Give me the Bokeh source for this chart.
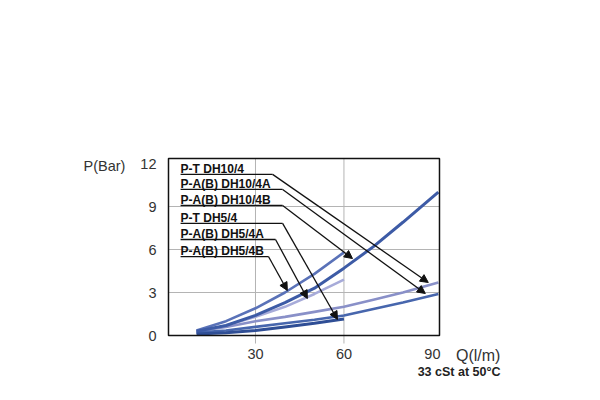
from bokeh.plotting import figure
from bokeh.models import FixedTicker, Label, Arrow, NormalHead, Range1d
from bokeh.core.properties import value
from bokeh.embed import file_html
from bokeh.resources import INLINE

# ---- data ----
q_dh10 = [10, 20, 30, 40, 50, 60, 70, 80, 92]
p_dh10_pt = [0.3, 0.6, 1.0, 1.3, 1.65, 2.0, 2.5, 3.0, 3.7]
p_dh10_a = [0.2, 0.35, 0.6, 0.85, 1.1, 1.4, 1.85, 2.3, 2.9]
p_dh10_b = [0.3, 0.7, 1.4, 2.3, 3.3, 4.7, 6.2, 7.9, 10.0]
q_dh5 = [10, 20, 30, 40, 50, 60]
p_dh5_pt = [0.1, 0.2, 0.35, 0.6, 0.85, 1.15]
p_dh5_a = [0.25, 0.7, 1.3, 2.0, 2.9, 3.9]
p_dh5_b = [0.35, 1.0, 1.9, 3.0, 4.3, 5.8]

labels = ["P-T DH10/4", "P-A(B) DH10/4A", "P-A(B) DH10/4B",
          "P-T DH5/4", "P-A(B) DH5/4A", "P-A(B) DH5/4B"]
label_q = [4.6, 4.6, 4.6, 4.6, 4.6, 4.6]
label_p = [11.24, 10.19, 9.07, 7.82, 6.70, 5.51]
bend_q = [35.8, 39.2, 39.2, 39.2, 36.8, 34.4]
tip_q = [88.6, 87.6, 62.9, 57.8, 47.6, 40.8]
tip_p = [3.70, 2.93, 5.37, 1.12, 2.58, 3.14]

x_ticks = [30, 60, 90]
y_ticks = [0, 3, 6, 9, 12]
x_grid = [30, 60]
y_grid = [3, 6, 9]
q_lim = (0.5, 92.4)
p_lim = (0.0, 12.35)

FONT = "Liberation Sans"

# the frame covers the whole canvas; the chart box is drawn inside it
p = figure(width=600, height=400, output_backend="svg", toolbar_location=None,
           x_range=Range1d(-56.47, 147.0), y_range=Range1d(-4.535, 23.374),
           min_border=0)
p.background_fill_color = "white"
p.border_fill_color = "white"
p.outline_line_color = None
p.grid.visible = False

p.xaxis.ticker = FixedTicker(ticks=x_ticks)
p.yaxis.ticker = FixedTicker(ticks=y_ticks)
p.xaxis.fixed_location = p_lim[0]
p.yaxis.fixed_location = q_lim[0]
for ax in (p.xaxis, p.yaxis):
    ax.axis_line_color = None
    ax.major_tick_line_color = None
    ax.minor_tick_line_color = None
    ax.major_label_text_font = FONT
    ax.major_label_text_font_size = "14.5px"
    ax.major_label_text_color = "#333333"
p.xaxis.major_tick_out = 8
p.xaxis.major_tick_in = 0
p.xaxis.major_label_standoff = 5
p.yaxis.major_tick_out = 0
p.yaxis.major_tick_in = 0
p.yaxis.major_label_standoff = 12

# grid lines
p.segment(x0=x_grid, y0=[-0.56] * len(x_grid), x1=x_grid, y1=[p_lim[1]] * len(x_grid),
          line_color="#b4b4b4", line_width=1)
p.segment(x0=[q_lim[0]] * len(y_grid), y0=y_grid, x1=[q_lim[1]] * len(y_grid), y1=y_grid,
          line_color="#b4b4b4", line_width=1)

# curves
p.line(q_dh5, p_dh5_a, line_color="#a7abd9", line_width=2.6)
p.line(q_dh10, p_dh10_pt, line_color="#8990c8", line_width=2.6)
p.line(q_dh5, p_dh5_b, line_color="#5a72b8", line_width=2.6)
p.line(q_dh10, p_dh10_a, line_color="#4766ad", line_width=2.6)
p.line(q_dh10, p_dh10_b, line_color="#3d5ba6", line_width=3)
p.line(q_dh5, p_dh5_pt, line_color="#2f4e95", line_width=3)

# chart box
p.quad(left=[q_lim[0]], right=[q_lim[1]], bottom=[p_lim[0]], top=[p_lim[1]],
       fill_color=None, line_color="#111111", line_width=1.5)

# label underlines and leaders
p.segment(x0=label_q, y0=label_p, x1=bend_q, y1=label_p,
          line_color="#111111", line_width=1.3)
for bq, lp, tq, tp in zip(bend_q, label_p, tip_q, tip_p):
    p.add_layout(Arrow(x_start=bq, y_start=lp, x_end=tq, y_end=tp,
                       line_color="#111111", line_width=1.3,
                       end=NormalHead(size=8, fill_color="#111111",
                                      line_color="#111111")))
p.text(x=label_q, y=[v + 0.38 for v in label_p], text=labels,
       text_font=value(FONT), text_font_style="bold",
       text_font_size="12px", text_color="#111111",
       text_baseline="middle", text_align="left")

# outside texts
p.add_layout(Label(x=-14.1, y=11.85, text="P(Bar)", text_font=FONT,
                   text_font_size="14.5px", text_color="#333333",
                   text_align="right", text_baseline="middle"))
p.add_layout(Label(x=98.0, y=-1.40, text="Q(l/m)", text_font=FONT,
                   text_font_size="16px", text_color="#333333",
                   text_align="left", text_baseline="middle"))
p.add_layout(Label(x=85.0, y=-2.58, text="33 cSt at 50°C", text_font=FONT,
                   text_font_size="12.5px", text_font_style="bold",
                   text_color="#222222",
                   text_align="left", text_baseline="middle"))

open("out.html", "w").write(file_html(p, INLINE))
